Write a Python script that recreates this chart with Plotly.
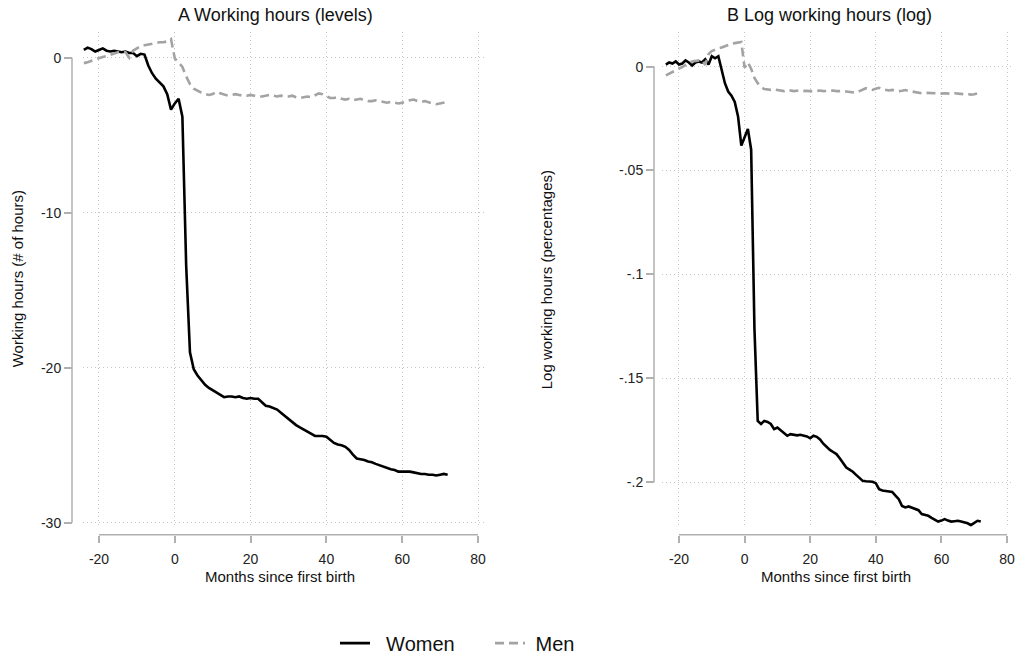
import plotly.graph_objects as go

# Event time in months relative to first birth
months = list(range(-24, 73))

# Panel A: working hours, levels (hours relative to baseline)
women_hours = [
    0.5, 0.65, 0.55, 0.4, 0.5, 0.6, 0.45, 0.4, 0.45, 0.4, 0.35, 0.4, 0.3, 0.3,
    0.1, 0.25, 0.2, -0.5, -1.0, -1.35, -1.6, -1.85, -2.35, -3.35,
    -2.95, -2.65, -3.8, -13.4, -19.0, -20.1, -20.5, -20.8, -21.1, -21.3, -21.45,
    -21.6, -21.75, -21.9, -21.85, -21.85, -21.9, -21.85, -21.95, -22.0, -21.95,
    -22.0, -22.0, -22.25, -22.45, -22.5, -22.6, -22.7, -22.9, -23.1, -23.35,
    -23.5, -23.7, -23.85, -24.0, -24.15, -24.3, -24.4, -24.4, -24.4, -24.45,
    -24.65, -24.85, -24.95, -25.0, -25.1, -25.3, -25.6, -25.85, -25.9, -25.95,
    -26.05, -26.1, -26.2, -26.3, -26.4, -26.5, -26.55, -26.6, -26.7, -26.7,
    -26.7, -26.7, -26.75, -26.8, -26.85, -26.85, -26.9, -26.9, -26.95, -26.9,
    -26.85, -26.9,
]
men_hours = [
    -0.35, -0.3, -0.2, -0.1, -0.05, 0.05, 0.1, 0.2, 0.25, 0.35, 0.4, 0.35, 0.0,
    0.45, 0.6, 0.75, 0.8, 0.85, 0.9, 0.95, 1.0, 1.0, 1.05, 1.2,
    -0.05, -0.3, -0.6, -1.2, -1.7, -2.0, -2.15, -2.25, -2.35, -2.4, -2.35, -2.2,
    -2.3, -2.4, -2.45, -2.4, -2.35, -2.4, -2.45, -2.45, -2.4, -2.45, -2.5, -2.5,
    -2.45, -2.4, -2.45, -2.5, -2.45, -2.5, -2.5, -2.45, -2.55, -2.6, -2.55,
    -2.5, -2.55, -2.45, -2.3, -2.35, -2.5, -2.6, -2.6, -2.55, -2.65, -2.7,
    -2.65, -2.75, -2.7, -2.65, -2.75, -2.8, -2.8, -2.75, -2.8, -2.85, -2.9,
    -2.85, -2.9, -2.95, -2.9, -2.85, -2.75, -2.7, -2.8, -2.85, -2.8, -2.9,
    -2.95, -3.0, -2.95, -2.9, -2.85,
]

# Panel B: log working hours
women_log = [
    0.001, 0.002, 0.0015, 0.0025, 0.001, 0.0015, 0.003, 0.002, 0.0005, 0.002,
    0.0025, 0.002, 0.0035, 0.001, 0.005, 0.004, 0.005, -0.002, -0.008, -0.012,
    -0.014, -0.017, -0.024, -0.038,
    -0.034, -0.030, -0.040, -0.126, -0.1705, -0.172, -0.1705, -0.171, -0.172,
    -0.1745, -0.1737, -0.175, -0.176, -0.1777, -0.1769, -0.1772, -0.1775,
    -0.1772, -0.1775, -0.178, -0.1789, -0.1777, -0.1782, -0.1795, -0.1815,
    -0.183, -0.1845, -0.1855, -0.1865, -0.1885, -0.191, -0.193, -0.194, -0.195,
    -0.1965, -0.198, -0.1994, -0.1996, -0.1998, -0.1998, -0.2005, -0.2034,
    -0.204, -0.2042, -0.2045, -0.2047, -0.2065, -0.2082, -0.2115, -0.2122,
    -0.2117, -0.2122, -0.213, -0.2135, -0.2154, -0.2158, -0.2162, -0.2172,
    -0.218, -0.219, -0.2185, -0.2178, -0.2185, -0.219, -0.2188, -0.2186,
    -0.219, -0.2194, -0.2198, -0.2207, -0.2195, -0.2186, -0.219,
]
men_log = [
    -0.0042, -0.0035, -0.0028, -0.002, -0.001, -0.0002, 0.001, 0.0018, 0.0025,
    0.0028, 0.003, 0.0032, 0.0008, 0.006, 0.0075, 0.0082, 0.0088, 0.0092,
    0.0098, 0.0105, 0.011, 0.0113, 0.0115, 0.0118,
    -0.0005, 0.002, -0.001, -0.0055, -0.008, -0.0098, -0.0108, -0.011, -0.0112,
    -0.011, -0.0113, -0.0115, -0.0118, -0.0112, -0.0115, -0.0118, -0.0116,
    -0.0114, -0.0117, -0.0118, -0.0116, -0.0118, -0.0117, -0.0115, -0.0118,
    -0.0116, -0.0117, -0.0115, -0.0118, -0.0117, -0.0118, -0.012, -0.0122,
    -0.0124, -0.0126, -0.0118, -0.011, -0.0104, -0.0108, -0.0112, -0.0106,
    -0.0102, -0.0108, -0.0113, -0.0115, -0.0112, -0.0115, -0.0118, -0.0116,
    -0.0113, -0.0117, -0.012, -0.0122, -0.0125, -0.0128, -0.0126, -0.0127,
    -0.0128, -0.013, -0.0132, -0.013, -0.0128, -0.0129, -0.0131, -0.0128,
    -0.013, -0.0132, -0.0133, -0.0131, -0.0135, -0.0133, -0.013, -0.0125,
]

x_ticks = [-20, 0, 20, 40, 60, 80]
x_tick_text = ["-20", "0", "20", "40", "60", "80"]
hours_ticks = [0, -10, -20, -30]
hours_tick_text = ["0", "-10", "-20", "-30"]
log_ticks = [0, -0.05, -0.1, -0.15, -0.2]
log_tick_text = ["0", "-.05", "-.1", "-.15", "-.2"]

FONT = "Liberation Sans, Arial, sans-serif"
WOMEN_COLOR = "#000000"
MEN_COLOR = "#a3a3a3"
AXIS_COLOR = "#b0b0b0"
GRID_COLOR = "#c4c4c4"

W, H = 1017, 663


def px_x(p):
    return p / W


def px_y(p):
    return 1 - p / H


fig = go.Figure()

women_line = dict(color=WOMEN_COLOR, width=2.6)
men_line = dict(color=MEN_COLOR, width=2.6, dash="9px,5px")

fig.add_trace(go.Scatter(x=months, y=women_hours, mode="lines",
                         name="\u00a0\u00a0Women",
                         line=women_line, legendgroup="w", xaxis="x", yaxis="y"))
fig.add_trace(go.Scatter(x=months, y=men_hours, mode="lines",
                         name="\u00a0Men",
                         line=men_line, legendgroup="m", xaxis="x", yaxis="y"))
fig.add_trace(go.Scatter(x=months, y=women_log, mode="lines", name="Women",
                         line=women_line, legendgroup="w", showlegend=False,
                         xaxis="x2", yaxis="y2"))
fig.add_trace(go.Scatter(x=months, y=men_log, mode="lines", name="Men",
                         line=men_line, legendgroup="m", showlegend=False,
                         xaxis="x2", yaxis="y2"))

plot_top, plot_bottom = 32, 530
x_axis_px = 538
y_dom = [px_y(plot_bottom), px_y(plot_top)]
tick_font = dict(family=FONT, size=14, color="#222222")

common_x = dict(
    tickvals=x_ticks, ticktext=x_tick_text, ticks="outside", ticklen=7,
    tickwidth=1.5, tickcolor=AXIS_COLOR, showline=False, zeroline=False,
    showgrid=True, gridcolor=GRID_COLOR, griddash="1px,3px", gridwidth=1,
    tickfont=tick_font, anchor="free", position=px_y(x_axis_px),
    ticklabelstandoff=4,
)
common_y = dict(
    ticks="outside", ticklen=8, tickwidth=1.5, tickcolor=AXIS_COLOR,
    showline=False, zeroline=False,
    showgrid=True, gridcolor=GRID_COLOR, griddash="1px,3px", gridwidth=1,
    tickfont=tick_font, anchor="free",
)

fig.update_layout(
    width=W, height=H,
    margin=dict(l=0, r=0, t=0, b=0),
    paper_bgcolor="white", plot_bgcolor="white",
    font=dict(family=FONT, color="#111111"),
    xaxis=dict(domain=[px_x(83), px_x(486)], range=[-24.22, 82.11], **common_x),
    yaxis=dict(domain=y_dom, range=[-30.26, 1.67], tickvals=hours_ticks,
               ticktext=hours_tick_text, position=px_x(72), **common_y),
    xaxis2=dict(domain=[px_x(662), px_x(1014)], range=[-25.18, 82.13], **common_x),
    yaxis2=dict(domain=y_dom, range=[-0.2215, 0.01675], tickvals=log_ticks,
                ticktext=log_tick_text, position=px_x(654), **common_y),
    legend=dict(orientation="h", x=px_x(335), xanchor="left", y=px_y(647),
                yanchor="middle", font=dict(family=FONT, size=20, color="#111111"),
                itemwidth=30, entrywidth=110, bgcolor="rgba(0,0,0,0)"),
    showlegend=True,
)

# Axis lines spanning only the labelled tick range
shapes = []
for xref in ["x", "x2"]:
    shapes.append(dict(type="line", xref=xref, yref="paper", x0=-20, x1=80,
                       y0=px_y(x_axis_px), y1=px_y(x_axis_px),
                       line=dict(color=AXIS_COLOR, width=1.5)))
shapes.append(dict(type="line", xref="paper", yref="y", x0=px_x(72), x1=px_x(72),
                   y0=-30, y1=0, line=dict(color=AXIS_COLOR, width=1.5)))
shapes.append(dict(type="line", xref="paper", yref="y2", x0=px_x(654), x1=px_x(654),
                   y0=-0.2, y1=0, line=dict(color=AXIS_COLOR, width=1.5)))
fig.update_layout(shapes=shapes)

annotations = [
    dict(text="A Working hours (levels)", x=px_x(275), y=px_y(15),
         font=dict(size=18, family=FONT, color="#111111")),
    dict(text="B Log working hours (log)", x=px_x(829), y=px_y(15),
         font=dict(size=18, family=FONT, color="#111111")),
    dict(text="Months since first birth", x=px_x(280), y=px_y(580),
         font=dict(size=15, family=FONT, color="#111111")),
    dict(text="Months since first birth", x=px_x(836), y=px_y(580),
         font=dict(size=15, family=FONT, color="#111111")),
    dict(text="Working hours (# of hours)", x=px_x(17), y=px_y(281),
         textangle=-90, font=dict(size=15, family=FONT, color="#111111")),
    dict(text="Log working hours (percentages)", x=px_x(546), y=px_y(282),
         textangle=-90, font=dict(size=15, family=FONT, color="#111111")),
]
for a in annotations:
    a.update(xref="paper", yref="paper", xanchor="center", yanchor="middle",
             showarrow=False)
fig.update_layout(annotations=annotations)

fig.write_html("out.html")
